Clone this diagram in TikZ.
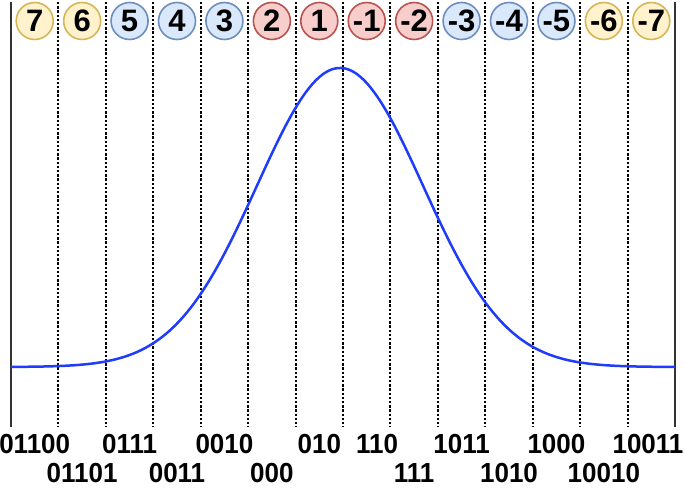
\documentclass[tikz,border=0pt]{standalone}
\usepackage{fontspec}
\usepackage{graphicx}
\setmainfont{Liberation Sans}
\definecolor{yfill}{HTML}{FFF2CC}\definecolor{ydraw}{HTML}{D6B656}
\definecolor{bfill}{HTML}{DAE8FC}\definecolor{bdraw}{HTML}{6C8EBF}
\definecolor{rfill}{HTML}{F8CECC}\definecolor{rdraw}{HTML}{B85450}
\definecolor{curveblue}{RGB}{30,60,250}
\definecolor{edge}{HTML}{333333}
\tikzset{
  ball/.style={circle,minimum size=37pt,inner sep=0pt,line width=1.6pt,
    font=\fontsize{31}{31}\selectfont\bfseries},
  yball/.style={ball,fill=yfill,draw=ydraw},
  bball/.style={ball,fill=bfill,draw=bdraw},
  rball/.style={ball,fill=rfill,draw=rdraw},
  solidline/.style={draw=edge,line width=2pt},
  dotline/.style={draw=black,line width=2pt,dash pattern=on 2.4pt off 1.8pt},
  code/.style={inner sep=0pt,font=\fontsize{26}{26}\selectfont\bfseries},
  bell/.style={draw=curveblue,line width=2.5pt}
}
\newcommand{\tallcode}[1]{\scalebox{1}[1.06]{#1}}
\begin{document}
\begin{tikzpicture}[x=1pt,y=-1pt]
\useasboundingbox (0,0) rectangle (685,488);
% vertical boundaries
\foreach \k in {0,...,14}{
  \coordinate (t\k) at ({11+47.43*\k},2);
  \coordinate (b\k) at ({11+47.43*\k},427);
}
\foreach \k in {1,...,13}{ \draw[dotline] (t\k) -- (b\k); }
\draw[solidline] (t0) -- (b0);
\draw[solidline] (t14) -- (b14);
% bell curve
\draw[bell] plot[domain=11:675,samples=160,smooth]
  (\x,{367-299*exp(-0.5*((\x-340)/83)^2)});
% numbered circles
\foreach \i/\lab/\st in {1/7/yball,2/6/yball,3/5/bball,4/4/bball,5/3/bball,
  6/2/rball,7/1/rball,8/-1/rball,9/-2/rball,10/-3/bball,11/-4/bball,
  12/-5/bball,13/-6/yball,14/-7/yball}{
  \node[\st] (c\i) at ({11+47.43*(\i-0.5)},21) {\lab};
}
% codes
\foreach \i/\lab in {1/01100,3/0111,5/0010,7/010,10/1011,12/1000}{
  \node[code] (u\i) at ({11+47.43*(\i-0.5)},444) {\tallcode{\lab}};
}
\node[code] (u14) at (648,444) {\tallcode{10011}};
\node[code] (u8) at (377,444) {\tallcode{110}};
\foreach \i/\lab in {2/01101,4/0011,6/000,9/111,11/1010,13/10010}{
  \node[code] (l\i) at ({11+47.43*(\i-0.5)},473) {\tallcode{\lab}};
}
\end{tikzpicture}
\end{document}
